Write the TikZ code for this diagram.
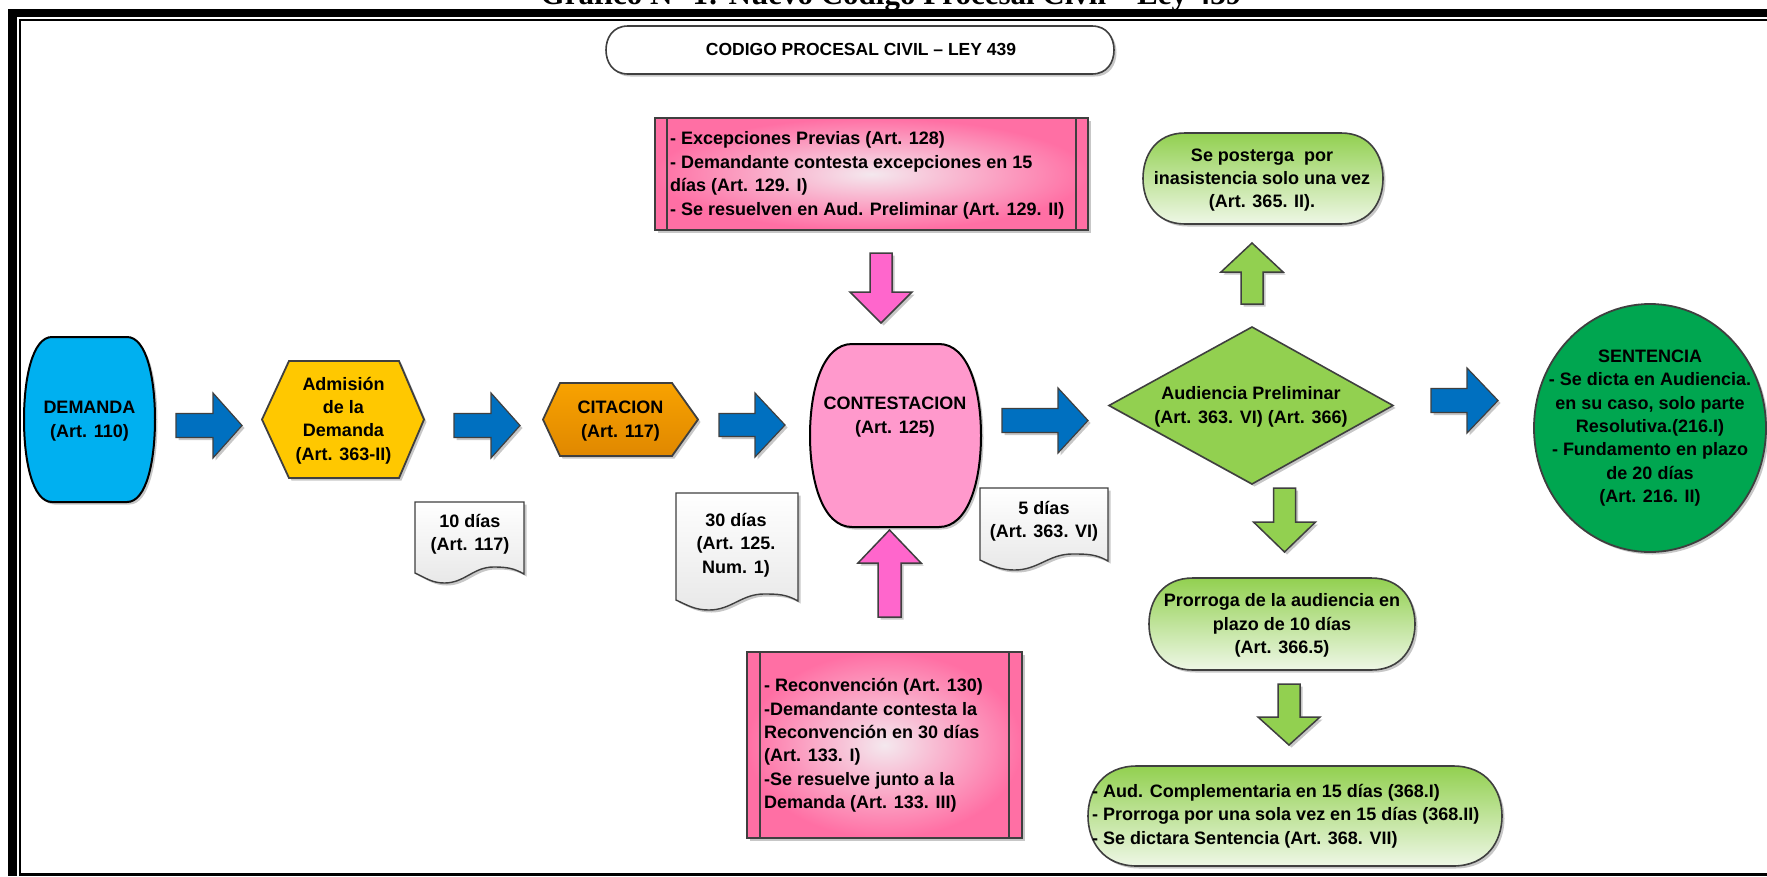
\documentclass[tikz,border=0pt]{standalone}
\usepackage{fontspec}
\setmainfont{Liberation Sans}
\newfontfamily\timesfont{Liberation Serif}
\usetikzlibrary{shadows}
\definecolor{demBlue}{HTML}{00B0F0}
\definecolor{arrBlue}{HTML}{0070C0}
\definecolor{admYellow}{HTML}{FFC800}
\definecolor{citTop}{HTML}{F8A200}
\definecolor{citBot}{HTML}{E08800}
\definecolor{contPink}{HTML}{FF99CC}
\definecolor{arrPink}{HTML}{FF66CC}
\definecolor{boxPinkOut}{HTML}{FF6FA4}
\definecolor{boxPinkIn}{HTML}{F4E8EE}
\definecolor{grMain}{HTML}{92D050}
\definecolor{grLight}{HTML}{EEF7E6}
\definecolor{sentGreen}{HTML}{00A650}
\definecolor{outl}{HTML}{3F3F3F}
\definecolor{docBot}{HTML}{E8E8E8}

% #1 opts, #2 x1, #3 y1, #4 x2, #5 y2, #6 inset
\newcommand{\Barrel}[6]{%
 \path[#1] ({#2+#6},#3) -- ({#4-#6},#3)
  .. controls ({#4-0.3*#6},#3) and (#4,{#3+0.25*(#5-#3)}) .. (#4,{(#3+#5)/2})
  .. controls (#4,{#5-0.25*(#5-#3)}) and ({#4-0.3*#6},#5) .. ({#4-#6},#5)
  -- ({#2+#6},#5)
  .. controls ({#2+0.3*#6},#5) and (#2,{#5-0.25*(#5-#3)}) .. (#2,{(#3+#5)/2})
  .. controls (#2,{#3+0.25*(#5-#3)}) and ({#2+0.3*#6},#3) .. cycle;}
% right block arrow: #1 opts, #2 x1, #3 xhead, #4 xtip, #5 yc, #6 shaft half, #7 head half
\newcommand{\BlockR}[7]{%
 \path[#1] (#2,{#5-#6}) -- (#3,{#5-#6}) -- (#3,{#5-#7}) -- (#4,#5)
  -- (#3,{#5+#7}) -- (#3,{#5+#6}) -- (#2,{#5+#6}) -- cycle;}
% vertical block arrow: #1 opts, #2 ytail, #3 yhead, #4 ytip, #5 xc, #6 shaft half, #7 head half
\newcommand{\BlockV}[7]{%
 \path[#1] ({#5-#6},#2) -- ({#5-#6},#3) -- ({#5-#7},#3) -- (#5,#4)
  -- ({#5+#7},#3) -- ({#5+#6},#3) -- ({#5+#6},#2) -- cycle;}
% document: #1 opts, #2 x1, #3 y1, #4 x2, #5 ybottom-left
\newcommand{\DocShape}[5]{%
 \pgfmathsetmacro\dcAx{#2+0.72*(#4-#2)}%
 \pgfmathsetmacro\dcAy{#5-6}%
 \pgfmathsetmacro\dcBx{#2+0.27*(#4-#2)}%
 \pgfmathsetmacro\dcBy{#5+10}%
 \pgfmathsetmacro\dcRy{#5+1}%
 \path[#1] (#2,#3) -- (#4,#3) -- (#4,\dcRy)
  to[out=150,in=0] (\dcAx,\dcAy)
  to[out=180,in=0] (\dcBx,\dcBy)
  to[out=180,in=-25] (#2,#5) -- cycle;}

\tikzset{
  shd/.style={drop shadow={shadow xshift=2.5pt,shadow yshift=-2.5pt,opacity=0.22,fill=black}},
  txt/.style={font=\fontsize{18}{23.4}\selectfont\bfseries,align=center,inner sep=0pt},
  txtl/.style={font=\fontsize{18}{23.4}\selectfont\bfseries,align=left,inner sep=0pt,anchor=west},
  barrow/.style={fill=arrBlue,draw=outl,line width=1.2pt,shd},
  parrow/.style={fill=arrPink,draw=outl,line width=1.5pt,shd},
  garrow/.style={fill=grMain,draw=outl,line width=1.5pt,shd},
  gbox/.style={top color=grMain,bottom color=grLight,draw=outl,line width=1.6pt,shd},
  pbox/.style={inner color=boxPinkIn,outer color=boxPinkOut,draw=outl,line width=1.6pt,shd},
  docbox/.style={top color=white,bottom color=docBot,draw=outl,line width=1.4pt,shd},
}

\begin{document}
\begin{tikzpicture}[x=1pt,y=-1pt]
\useasboundingbox (0,0) rectangle (1767,876);
\fill[white] (0,0) rectangle (1767,876);

% page title (cut off at the top)
\node[font={\timesfont\bfseries\fontsize{31}{36}\selectfont},anchor=base,inner sep=0pt] (grafico) at (891,4) {Gráfico N° 1: Nuevo Código Procesal Civil – Ley 439};

% frame
\fill[black] (8,9) rectangle (1767,17);
\fill[black] (8,9) rectangle (17,876);
\fill[black] (19,19) rectangle (1767,21);
\fill[black] (19,19) rectangle (21,876);
\fill[black] (19,873) rectangle (1767,876);

% header box
\Barrel{draw=outl,line width=1.6pt,fill=white,shd}{606}{26}{1114}{74}{22}
\node[txt,font=\fontsize{17.5}{21}\selectfont\bfseries] (titulo) at (861,49) {CODIGO PROCESAL CIVIL – LEY 439};

% DEMANDA
\Barrel{fill=demBlue,draw=black,line width=2pt,shd}{24}{337}{155}{502}{28}
\node[txt] (demanda) at (89.5,421) {DEMANDA\\(Art. 110)};

% arrows along the main row
\BlockR{barrow}{176}{213}{242}{425.5}{12}{32.5}
\BlockR{barrow}{454}{491}{520}{425.5}{12}{32.5}
\BlockR{barrow}{719}{755}{785}{425}{11.5}{32}
\BlockR{barrow}{1002}{1058}{1088}{420.5}{12}{32.5}
\BlockR{barrow}{1431}{1467}{1498}{400.5}{12}{32.5}

% Admision hexagon
\path[fill=admYellow,draw=outl,line width=1.8pt,shd] (262,419.5) -- (289,361) -- (399,361) -- (424,419.5) -- (399,478) -- (289,478) -- cycle;
\node[txt] (admision) at (343.5,420.4) {Admisión\\de la\\Demanda\\(Art. 363-II)};

% CITACION hexagon
\path[top color=citTop,bottom color=citBot,draw=outl,line width=1.8pt,shd] (543,419.5) -- (560,383) -- (672,383) -- (698,419.5) -- (672,456) -- (560,456) -- cycle;
\node[txt] (citacion) at (620.5,421) {CITACION\\(Art. 117)};

% documents
\DocShape{docbox}{415}{502}{524}{573}
\node[txt] (dias10) at (470,534.5) {10 días\\(Art. 117)};
\DocShape{docbox}{676}{493}{798}{600}
\node[txt] (dias30) at (736,545) {30 días\\(Art. 125.\\Num. 1)};
\DocShape{docbox}{980}{488}{1108}{560}
\node[txt] (dias5) at (1044,521) {5 días\\(Art. 363. VI)};

% CONTESTACION
\Barrel{fill=contPink,draw=black,line width=2pt,shd}{810}{344}{981}{527}{42}
\node[txt] (contestacion) at (895,417) {CONTESTACION\\(Art. 125)};

% top pink box
\path[pbox] (655,118) rectangle (1088,230);
\draw[outl,line width=1.6pt] (667,118) -- (667,230) (1076,118) -- (1076,230);
\node[txtl] (excepciones) at (670,175.4) {- Excepciones Previas (Art. 128)\\- Demandante contesta excepciones en 15\\días (Art. 129. I)\\- Se resuelven en Aud. Preliminar (Art. 129. II)};
\BlockV{parrow}{253}{292}{323}{881}{11}{31}

% bottom pink box
\path[pbox] (747,652) rectangle (1022,838);
\draw[outl,line width=1.6pt] (760,652) -- (760,838) (1009,652) -- (1009,838);
\node[txtl] (reconv) at (764,745.4) {- Reconvención (Art. 130)\\-Demandante contesta la\\Reconvención en 30 días\\(Art. 133. I)\\-Se resuelve junto a la\\Demanda (Art. 133. III)};
\BlockV{parrow}{617}{563}{530}{889.5}{11.5}{31.5}

% Audiencia preliminar
\path[fill=grMain,draw=outl,line width=1.6pt,shd] (1109,405.5) -- (1252,327) -- (1393,405.5) -- (1252,484) -- cycle;
\node[txt] (audiencia) at (1251,407) {Audiencia Preliminar\\(Art. 363. VI) (Art. 366)};

\BlockV{garrow}{304}{272}{243}{1252}{11}{31}
\Barrel{gbox}{1143}{133}{1383}{224}{42}
\node[txt] (posterga) at (1262,180) {Se posterga~ por\\inasistencia solo una vez\\(Art. 365. II).};

\BlockV{garrow}{488}{522}{552}{1284.5}{11}{31}
\Barrel{gbox}{1149}{578}{1415}{670}{44}
\node[txt] (prorroga) at (1282,625.4) {Prorroga de la audiencia en\\plazo de 10 días\\(Art. 366.5)};

\BlockV{garrow}{684}{717}{745}{1289}{11}{31}
\Barrel{gbox}{1088}{766}{1502}{866}{49}
\node[txtl] (complementaria) at (1092,816) {- Aud. Complementaria en 15 días (368.I)\\- Prorroga por una sola vez en 15 días (368.II)\\- Se dictara Sentencia (Art. 368. VII)};

% SENTENCIA
\path[fill=sentGreen,draw=outl,line width=1.8pt,shd] (1650,428) ellipse [x radius=116,y radius=124];
\node[txt] (sentencia) at (1650,428) {SENTENCIA\\- Se dicta en Audiencia.\\en su caso, solo parte\\Resolutiva.(216.I)\\- Fundamento en plazo\\de 20 días\\(Art. 216. II)};
\end{tikzpicture}
\end{document}
